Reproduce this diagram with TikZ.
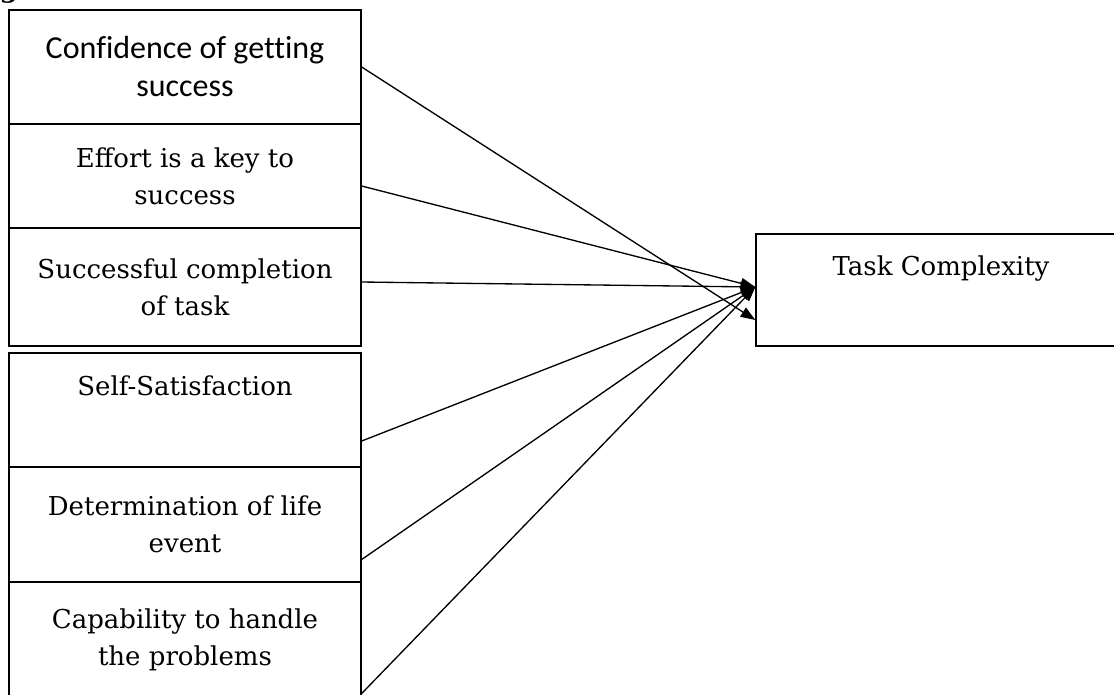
\documentclass[tikz,border=0pt]{standalone}
\usepackage{fontspec}
\setmainfont{DejaVu Serif}
\newfontfamily\calibrifont[Ligatures=NoCommon]{Carlito}
\usetikzlibrary{positioning, arrows.meta, calc}

\begin{document}
\begin{tikzpicture}[
  x=0.75pt, y=-0.75pt,
  font=\fontsize{19.5}{28}\selectfont,
  >={Triangle[length=11pt, width=8pt]},
  line width=1pt,
  box/.style={draw, minimum width=264pt, align=center, inner sep=2pt},
  factor/.style={box, minimum height=86pt},
  outcome/.style={box, minimum width=277.5pt, minimum height=84pt},
  flow/.style={->},
]
\useasboundingbox (0,0) rectangle (1114,694);
% cut-off heading
\node[font=\bfseries\fontsize{20}{24}\selectfont, anchor=base west, inner sep=0pt] (head) at (-1,-3) {g};
% left column: factors
\node[box, minimum height=85.5pt, font=\calibrifont\fontsize{24}{28.5}\selectfont] (conf) at (185,67) {Confidence of getting\\success};
\node[box, minimum height=78pt]   (effort) at (185,176) {Effort is a key to\\success};
\node[box, minimum height=88.5pt] (compl)  at (185,287) {Successful completion\\of task};
\node[box, minimum height=85.5pt] (satis)  at (185,410) {Self-Satisfaction\\\strut};
\node[factor]                     (determ) at (185,524.5) {Determination of life\\event};
\node[factor]                     (capab)  at (185,639.5) {Capability to handle\\the problems};
% right: outcome
\node[outcome] (task) at (941,290) {Task Complexity\\\strut};
% flows
\draw[flow] (conf.east) -- ($(task.west)+(0,30)$);
\draw[flow] ($(effort.east)+(0,10)$) -- ($(task.west)+(0,-3)$);
\draw[flow] ($(compl.east)+(0,-5)$) -- ($(task.west)+(0,-3)$);
\draw[flow] ($(satis.east)+(0,31)$) -- ($(task.west)+(0,-3)$);
\draw[flow] ($(determ.east)+(0,35)$) -- ($(task.west)+(0,-3)$);
\draw[flow] ($(capab.east)+(0,54)$) -- ($(task.west)+(0,-3)$);
\end{tikzpicture}
\end{document}
